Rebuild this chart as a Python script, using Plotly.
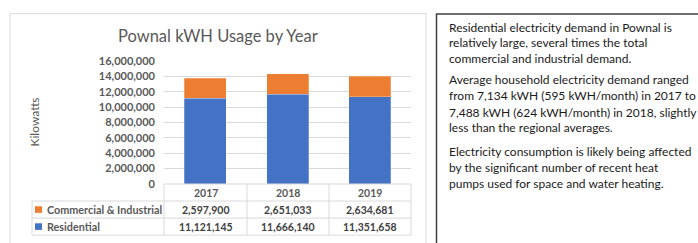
import plotly.graph_objects as go

years = ["2017", "2018", "2019"]
commercial = [2597900, 2651033, 2634681]
residential = [11121145, 11666140, 11351658]
series_names = ["Commercial & Industrial", "Residential"]
y_ticks = [0, 2000000, 4000000, 6000000, 8000000, 10000000, 12000000, 14000000, 16000000]
notes = [
    ["Residential electricity demand in Pownal is",
     "relatively large, several times the total",
     "commercial and industrial demand."],
    ["Average household electricity demand ranged",
     "from 7,134 kWH (595 kWH/month) in 2017 to",
     "7,488 kWH (624 kWH/month) in 2018, slightly",
     "less than the regional averages."],
    ["Electricity consumption is likely being affected",
     "by the significant number of recent heat",
     "pumps used for space and water heating."],
]

W, H = 698, 243
BLUE = "#4472C4"
ORANGE = "#ED7D31"
GRAY = "#595959"
LINE = "#d9d9d9"
FONT = "Lato"

def px(x):
    return x / W

def py(y):
    return 1 - y / H

fig = go.Figure()
fig.add_trace(go.Bar(x=years, y=residential, name=series_names[1],
                     marker=dict(color=BLUE, line=dict(color="rgba(255,255,255,0.5)", width=0.5))))
fig.add_trace(go.Bar(x=years, y=commercial, name=series_names[0],
                     marker=dict(color=ORANGE, line=dict(color="rgba(255,255,255,0.5)", width=0.5))))

plot_x0, plot_x1 = 164, 411
plot_y0, plot_y1 = 187, 57

fig.update_layout(
    width=W, height=H, margin=dict(l=0, r=0, t=0, b=0),
    paper_bgcolor="white", plot_bgcolor="white",
    barmode="stack", bargap=0.49, showlegend=False,
    xaxis=dict(domain=[px(plot_x0), px(plot_x1)], showticklabels=False,
               showgrid=False, zeroline=False, showline=False, fixedrange=True),
    yaxis=dict(domain=[py(plot_y0), py(plot_y1)], range=[0, 16000000],
               tickvals=y_ticks, tickformat=",", showgrid=True, gridcolor=LINE,
               gridwidth=1, zeroline=False, showline=False, ticks="",
               ticklabelstandoff=8, fixedrange=True,
               tickfont=dict(family=FONT, size=11, color=GRAY, weight="bold")),
    font=dict(family=FONT),
)

shapes = []
# chart border
shapes.append(dict(type="rect", xref="paper", yref="paper", x0=px(10), x1=px(426),
                   y0=py(252), y1=py(7), line=dict(color=LINE, width=1)))
# text box border
shapes.append(dict(type="rect", xref="paper", yref="paper", x0=px(436.5), x1=px(705),
                   y0=py(252), y1=py(7.5), line=dict(color="#404040", width=1.5)))
# table lines
col_x = [164, 247, 329, 411]
row_y = [187, 205, 223, 241]
shapes.append(dict(type="line", xref="paper", yref="paper", x0=px(164), x1=px(411),
                   y0=py(187), y1=py(187), line=dict(color=LINE, width=1)))
for yy in row_y[1:]:
    shapes.append(dict(type="line", xref="paper", yref="paper", x0=px(32), x1=px(411),
                       y0=py(yy), y1=py(yy), line=dict(color=LINE, width=1)))
for xx in col_x:
    shapes.append(dict(type="line", xref="paper", yref="paper", x0=px(xx), x1=px(xx),
                       y0=py(187), y1=py(241), line=dict(color=LINE, width=1)))
shapes.append(dict(type="line", xref="paper", yref="paper", x0=px(32), x1=px(32),
                   y0=py(205), y1=py(241), line=dict(color=LINE, width=1)))
# legend keys
for (yc, col) in [(214, ORANGE), (232, BLUE)]:
    shapes.append(dict(type="rect", xref="paper", yref="paper", x0=px(35), x1=px(42),
                       y0=py(yc + 3.5), y1=py(yc - 3.5), fillcolor=col, line=dict(width=0)))

ann = []
ann.append(dict(text="Pownal kWH Usage by Year", xref="paper", yref="paper",
                x=px(217.5), y=py(30.5), xanchor="center", yanchor="middle", showarrow=False,
                font=dict(family=FONT, size=16.5, color=GRAY)))
ann.append(dict(text="Kilowatts", xref="paper", yref="paper", textangle=-90,
                x=px(34), y=py(122), xanchor="center", yanchor="middle", showarrow=False,
                font=dict(family=FONT, size=12, color=GRAY)))
centers = [(col_x[i] + col_x[i + 1]) / 2 for i in range(3)]
for i, yr in enumerate(years):
    ann.append(dict(text=f"<b>{yr}</b>", xref="paper", yref="paper", x=px(centers[i]), y=py(196),
                    xanchor="center", yanchor="middle", showarrow=False,
                    font=dict(family=FONT, size=10.5, color=GRAY)))
    ann.append(dict(text=f"<b>{commercial[i]:,}</b>", xref="paper", yref="paper", x=px(centers[i]), y=py(214),
                    xanchor="center", yanchor="middle", showarrow=False,
                    font=dict(family=FONT, size=10.5, color="#404040")))
    ann.append(dict(text=f"<b>{residential[i]:,}</b>", xref="paper", yref="paper", x=px(centers[i]), y=py(232),
                    xanchor="center", yanchor="middle", showarrow=False,
                    font=dict(family=FONT, size=10.5, color="#404040")))
for name, yc in [(series_names[0], 214), (series_names[1], 232)]:
    ann.append(dict(text=f"<b>{name}</b>", xref="paper", yref="paper", x=px(45), y=py(yc),
                    xanchor="left", yanchor="middle", showarrow=False,
                    font=dict(family=FONT, size=10.8, color=GRAY)))

line_y = [[22, 38, 54], [77, 94, 111, 127], [153, 170, 187]]
for para, ys in zip(notes, line_y):
    for t, yy in zip(para, ys):
        ann.append(dict(text=t, xref="paper", yref="paper", x=px(446.5), y=py(yy),
                        xanchor="left", yanchor="middle", showarrow=False,
                        font=dict(family=FONT, size=12, color="#1a1a1a")))

fig.update_layout(shapes=shapes, annotations=ann)
fig.write_html("out.html", config={"displayModeBar": False},
               post_script="document.body.style.margin='0';document.body.style.overflow='hidden';")
